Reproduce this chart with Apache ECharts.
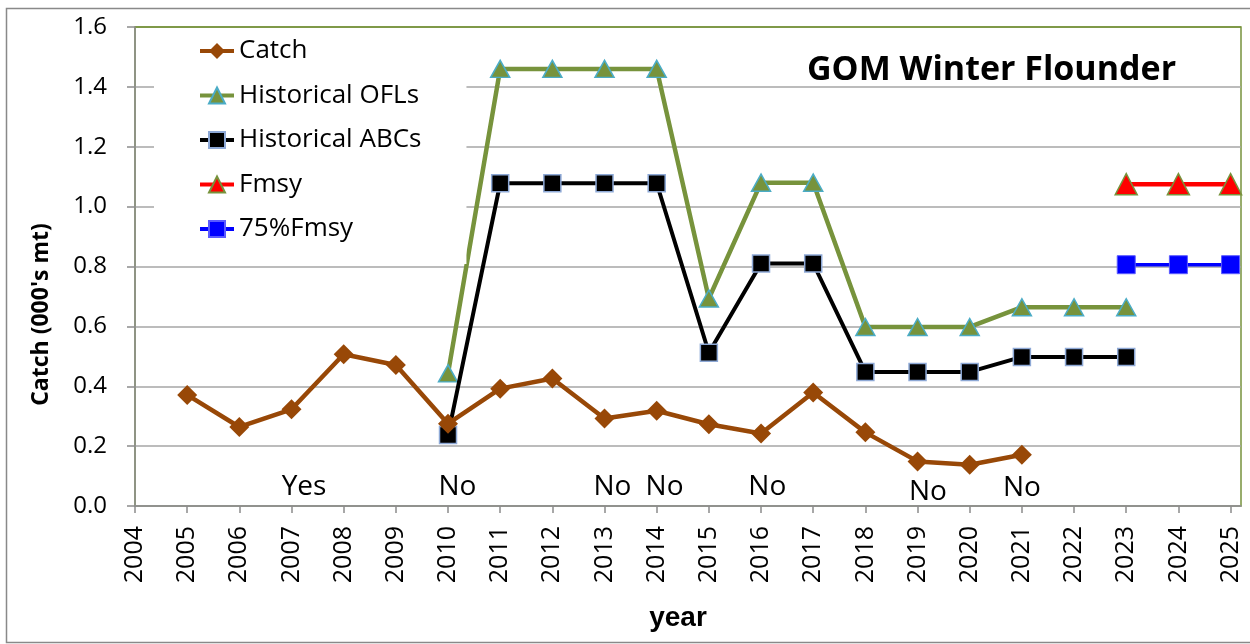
<!DOCTYPE html>
<html>
<head>
<meta charset="utf-8">
<script src="https://cdn.jsdelivr.net/npm/echarts@6/dist/echarts.min.js"></script>
<style>
html,body{margin:0;padding:0;background:#fff;}
#chart{width:1250px;height:644px;}
</style>
</head>
<body>
<div id="chart"></div>
<script>
// ---- data ----
var years = [2004,2005,2006,2007,2008,2009,2010,2011,2012,2013,2014,2015,2016,2017,2018,2019,2020,2021,2022,2023,2024,2025];
var yTicks = [0, 0.2, 0.4, 0.6, 0.8, 1.0, 1.2, 1.4, 1.6];

var catchYears  = [2005,2006,2007,2008,2009,2010,2011,2012,2013,2014,2015,2016,2017,2018,2019,2020,2021];
var catchValues = [0.371,0.264,0.323,0.507,0.471,0.275,0.392,0.426,0.292,0.318,0.273,0.242,0.379,0.246,0.149,0.138,0.171];

var oflYears  = [2010,2011,2012,2013,2014,2015,2016,2017,2018,2019,2020,2021,2022,2023];
var oflValues = [0.443,1.46,1.46,1.46,1.46,0.693,1.08,1.08,0.598,0.598,0.598,0.664,0.664,0.664];

var abcYears  = [2010,2011,2012,2013,2014,2015,2016,2017,2018,2019,2020,2021,2022,2023];
var abcValues = [0.237,1.078,1.078,1.078,1.078,0.512,0.81,0.81,0.448,0.448,0.448,0.498,0.498,0.498];

var fmsyYears  = [2023,2024,2025];
var fmsyValues = [1.075,1.075,1.075];

var f75Years  = [2023,2024,2025];
var f75Values = [0.806,0.806,0.806];

var noteText = ['Yes','No','No','No','No','No','No'];
var noteYear = [2007.24,2010.18,2013.15,2014.15,2016.12,2019.2,2021.0];
var noteY    = [0.064,0.064,0.064,0.064,0.063,0.047,0.060];

var seriesNames = ['Catch','Historical OFLs','Historical ABCs','Fmsy','75%Fmsy'];

function pairs(xs, ys){ return xs.map(function(x,i){ return [x, ys[i]]; }); }

var chart = echarts.init(document.getElementById('chart'), null, {renderer:'canvas'});

var gridGrey = '#A6A6A6';
var green = '#77933C';
var splitColors = yTicks.map(function(v,i){ return i === yTicks.length-1 ? green : gridGrey; });

var option = {
  backgroundColor: '#ffffff',
  animation: false,
  grid: {
    left: 135, right: 9, top: 27, bottom: 138,
    show: true, borderColor: green, borderWidth: 1.5, backgroundColor: 'transparent'
  },
  graphic: [
    { type: 'rect', z: -10, silent: true,
      shape: { x: 6.5, y: 8.5, width: 1260, height: 634 },
      style: { fill: 'none', stroke: '#898989', lineWidth: 1.5 } },
    { type: 'text', left: 807, top: 53, z: 50,
      style: { text: 'GOM Winter Flounder', fontFamily: 'Open Sans', fontWeight: 'bold', fontSize: 34, fill: '#000' } }
  ],
  legend: {
    data: seriesNames,
    orient: 'vertical',
    left: 154, top: 29,
    padding: [9, 45, 22, 44],
    backgroundColor: '#ffffff',
    itemGap: 18.5,
    itemWidth: 34,
    itemHeight: 20,
    lineStyle: { width: 4 },
    textStyle: { fontFamily: 'Open Sans', fontSize: 26, color: '#000', lineHeight: 26 }
  },
  xAxis: {
    type: 'value',
    min: 2004, max: 2025.2, interval: 1,
    name: 'year', nameLocation: 'middle', nameGap: 98,
    nameTextStyle: { fontFamily: 'Liberation Sans', fontWeight: 'bold', fontSize: 28, color: '#000', padding: [0, 20, 0, 0] },
    axisLine: { show: true, onZero: false, lineStyle: { color: '#8C8C8C', width: 1.5 } },
    axisTick: { show: true, length: 7, customValues: years, lineStyle: { color: '#8C8C8C', width: 1.5 } },
    axisLabel: {
      customValues: years,
      rotate: 90, margin: 20,
      fontFamily: 'Open Sans', fontSize: 25, color: '#000',
      formatter: function(v){ return Number.isInteger(v) ? String(v) : ''; }
    },
    splitLine: { show: false }
  },
  yAxis: {
    type: 'value',
    min: 0, max: 1.6, interval: 0.2,
    name: "Catch (000's mt)", nameLocation: 'middle', nameGap: 82,
    nameTextStyle: { fontFamily: 'Open Sans', fontWeight: 'bold', fontSize: 23, color: '#000', padding: [0, 96, 0, 0] },
    axisLine: { show: true, lineStyle: { color: '#8C8C8C', width: 1.5 } },
    axisTick: { show: true, length: 8, lineStyle: { color: '#8C8C8C', width: 1.5 } },
    axisLabel: {
      margin: 28, fontFamily: 'Open Sans', fontSize: 24, color: '#000',
      formatter: function(v){ return v.toFixed(1); }
    },
    splitLine: { show: true, lineStyle: { color: splitColors, width: 1.5 } }
  },
  series: [
    {
      name: 'Catch', type: 'line', z: 5,
      data: pairs(catchYears, catchValues),
      symbol: 'diamond', symbolSize: 20,
      lineStyle: { color: '#984807', width: 4.5 },
      itemStyle: { color: '#984807', borderColor: '#984807', borderWidth: 0 }
    },
    {
      name: 'Historical OFLs', type: 'line', z: 3,
      data: pairs(oflYears, oflValues),
      symbol: 'triangle', symbolSize: [19, 17],
      lineStyle: { color: green, width: 4.5 },
      itemStyle: { color: green, borderColor: '#4BACC6', borderWidth: 1.5 }
    },
    {
      name: 'Historical ABCs', type: 'line', z: 4,
      data: pairs(abcYears, abcValues),
      symbol: 'rect', symbolSize: 17,
      lineStyle: { color: '#000000', width: 4 },
      itemStyle: { color: '#000000', borderColor: '#8EA9D6', borderWidth: 1.5 }
    },
    {
      name: 'Fmsy', type: 'line', z: 3,
      data: pairs(fmsyYears, fmsyValues),
      symbol: 'triangle', symbolSize: [22, 21],
      lineStyle: { color: '#FF0000', width: 4.5 },
      itemStyle: { color: '#FF0000', borderColor: green, borderWidth: 1.5 }
    },
    {
      name: '75%Fmsy', type: 'line', z: 3,
      data: pairs(f75Years, f75Values),
      symbol: 'rect', symbolSize: 18,
      lineStyle: { color: '#0000FF', width: 3.5 },
      itemStyle: { color: '#0000FF', borderColor: '#5B5BFF', borderWidth: 1 }
    },
    {
      name: 'notes', type: 'scatter', z: 6,
      symbolSize: 0, silent: true,
      itemStyle: { opacity: 1 },
      data: noteText.map(function(t,i){ return { name: t, value: [noteYear[i], noteY[i]] }; }),
      label: {
        show: true, position: 'inside', formatter: '{b}', opacity: 1,
        fontFamily: 'Open Sans', fontSize: 28, color: '#000000'
      }
    }
  ]
};
chart.setOption(option);
</script>
</body>
</html>
